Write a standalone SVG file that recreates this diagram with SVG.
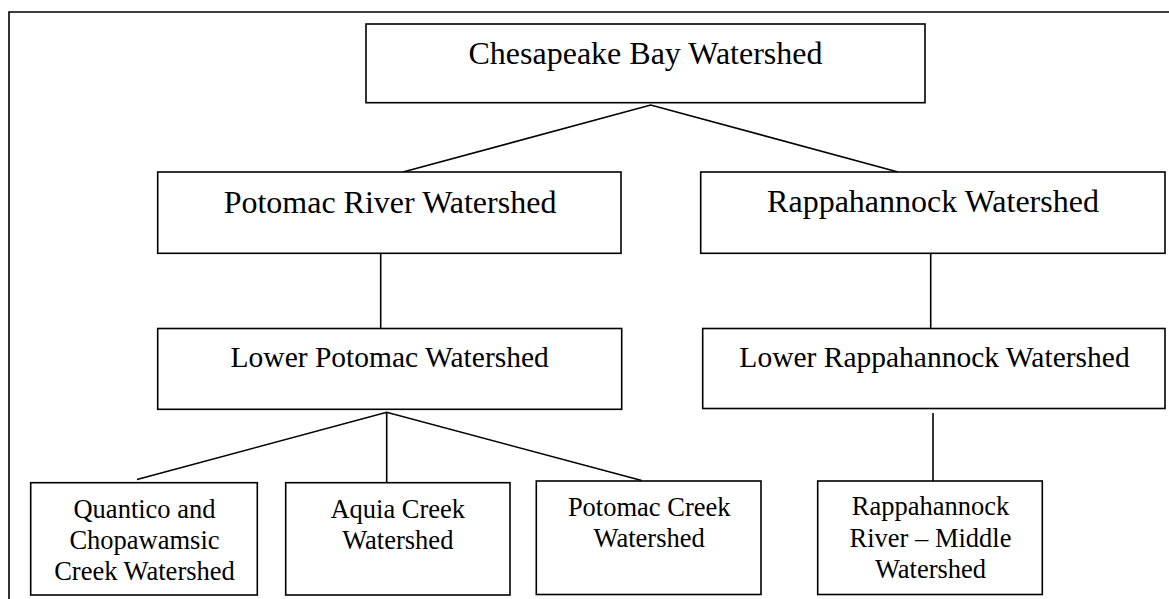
<svg xmlns="http://www.w3.org/2000/svg" width="1169" height="599" viewBox="0 0 1169 599">
<style>
.box{fill:#fff;stroke:#000;stroke-width:1.6}
.ln{fill:none;stroke:#000;stroke-width:1.6}
text{font-family:"Liberation Serif","Times New Roman",serif;fill:#000;text-anchor:middle}
.t1{font-size:32px}
.t2{font-size:29.5px}
.t3{font-size:26.5px}
</style>
<rect width="1169" height="599" fill="#fff"/>
<path class="ln" d="M9,599 V12 H1169"/>
<g id="connectors">
<path class="ln" d="M403,172 L650.7,105 L898,172"/>
<path class="ln" d="M380.7,253 V328.5"/>
<path class="ln" d="M930.7,253 V328.5"/>
<path class="ln" d="M137,479.5 L386.7,412.3 L641.7,480.5 M386.7,412.3 V482.5"/>
<path class="ln" d="M933,413 V481"/>
</g>
<g id="chesapeake">
<rect class="box" x="366" y="24" width="559" height="78.7"/>
<text class="t1" x="645.5" y="64">Chesapeake Bay Watershed</text>
</g>
<g id="potomac">
<rect class="box" x="157.7" y="172" width="463.3" height="81.3"/>
<text class="t1" x="390" y="212.7">Potomac River Watershed</text>
</g>
<g id="rappahannock">
<rect class="box" x="700.7" y="172" width="464.3" height="81.3"/>
<text class="t1" x="933" y="211.7">Rappahannock Watershed</text>
</g>
<g id="lower-potomac">
<rect class="box" x="157.7" y="328.5" width="464" height="80.8"/>
<text class="t2" x="389.7" y="366.7">Lower Potomac Watershed</text>
</g>
<g id="lower-rappahannock">
<rect class="box" x="702.7" y="328.5" width="462.3" height="80"/>
<text class="t2" x="934.5" y="366.7">Lower Rappahannock Watershed</text>
</g>
<g id="quantico">
<rect class="box" x="30.7" y="482.7" width="226.6" height="112.3"/>
<text class="t3" x="144.5" y="517.7">Quantico and</text>
<text class="t3" x="144.5" y="549">Chopawamsic</text>
<text class="t3" x="144.5" y="580">Creek Watershed</text>
</g>
<g id="aquia">
<rect class="box" x="285.7" y="482.7" width="224.3" height="112.3"/>
<text class="t3" x="397.8" y="517.7">Aquia Creek</text>
<text class="t3" x="397.8" y="548.5">Watershed</text>
</g>
<g id="potomac-creek">
<rect class="box" x="536.3" y="481" width="224.7" height="113.5"/>
<text class="t3" x="649.2" y="515.7">Potomac Creek</text>
<text class="t3" x="649.2" y="546.7">Watershed</text>
</g>
<g id="rappahannock-middle">
<rect class="box" x="817.7" y="481" width="224.6" height="113.5"/>
<text class="t3" x="930.5" y="515">Rappahannock</text>
<text class="t3" x="930.5" y="546.7">River – Middle</text>
<text class="t3" x="930.5" y="578.3">Watershed</text>
</g>
</svg>
